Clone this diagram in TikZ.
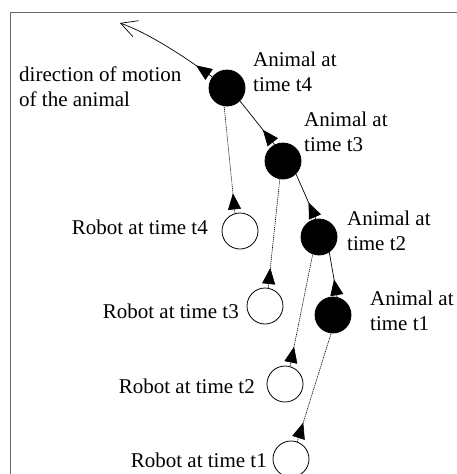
\documentclass[tikz,border=0pt]{standalone}
\usepackage{fontspec}
\setmainfont{Liberation Serif}
\usetikzlibrary{arrows.meta,decorations.markings}
\newcommand{\lblfont}{\fontsize{21pt}{25pt}\selectfont}
\tikzset{
  animal/.style={circle, draw, fill=black, minimum size=36pt, inner sep=0pt, line width=0.8pt},
  robot/.style={circle, draw, fill=white, minimum size=36pt, inner sep=0pt, line width=0.8pt},
  lbl/.style={font=\lblfont, inner sep=0pt, align=left},
  tri/.style={postaction={decorate}, decoration={markings,
      mark=at position #1 with {\arrow{Triangle[length=16pt,width=13pt]}}}},
  track/.style={line width=0.7pt},
  sight/.style={line width=0.6pt, dash pattern=on 1.2pt off 0.8pt},
  frameline/.style={line width=1pt, draw={rgb,255:red,105;green,105;blue,105}}
}
\begin{document}
\begin{tikzpicture}[x=1pt,y=-1pt]
\useasboundingbox (0,0) rectangle (457,474);
\fill[white] (0,0) rectangle (457,474);
% frame (top and left edges)
\coordinate (fbl) at (10,474);
\coordinate (ftl) at (10,12);
\coordinate (ftr) at (457,12);
\draw[frameline] (fbl) -- (ftl) -- (ftr);

% animal positions
\node[animal] (a4) at (227,88) {};
\node[animal] (a3) at (283,161) {};
\node[animal] (a2) at (319,237) {};
\node[animal] (a1) at (333,315) {};
% robot positions
\node[robot] (r4) at (240,231) {};
\node[robot] (r3) at (265,306) {};
\node[robot] (r2) at (285,384) {};
\node[robot] (r1) at (291,459) {};

% animal track
\draw[track, tri=18pt] (a1.77) -- (a2.304);
\draw[track, tri=18pt] (a2.100) -- (a3.315);
\draw[track, tri=19pt] (a3.117) -- (a4.315);
\coordinate (tip) at (120,23);
\draw[track, tri=20pt, -{Straight Barb[length=16pt,width=17pt]}]
  (a4.143) .. controls (175,50) and (145,32) .. (tip);

% robot sight lines
\draw[sight, tri=20pt] (r4.106) -- (a4.261);
\draw[sight, tri=20pt] (r3.80) -- (a3.260);
\draw[sight, tri=20pt] (r2.74) -- (a2.250);
\draw[sight, tri=20pt] (r1.70) -- (a1.264);

% labels (base = baseline of the last line)
\node[lbl, anchor=base west] (ldir) at (19,106) {direction of motion\\of the animal};
\node[lbl, anchor=base west] (la4) at (253,91) {Animal at\\time t4};
\node[lbl, anchor=base west] (la3) at (304,151) {Animal at\\time t3};
\node[lbl, anchor=base west] (la2) at (347,250) {Animal at\\time t2};
\node[lbl, anchor=base west] (la1) at (370,330) {Animal at\\time t1};
\node[lbl, anchor=base east] (lr4) at (208,234) {Robot at time t4};
\node[lbl, anchor=base east] (lr3) at (239,318) {Robot at time t3};
\node[lbl, anchor=base east] (lr2) at (255,393) {Robot at time t2};
\node[lbl, anchor=base east] (lr1) at (267,467) {Robot at time t1};
\end{tikzpicture}
\end{document}
